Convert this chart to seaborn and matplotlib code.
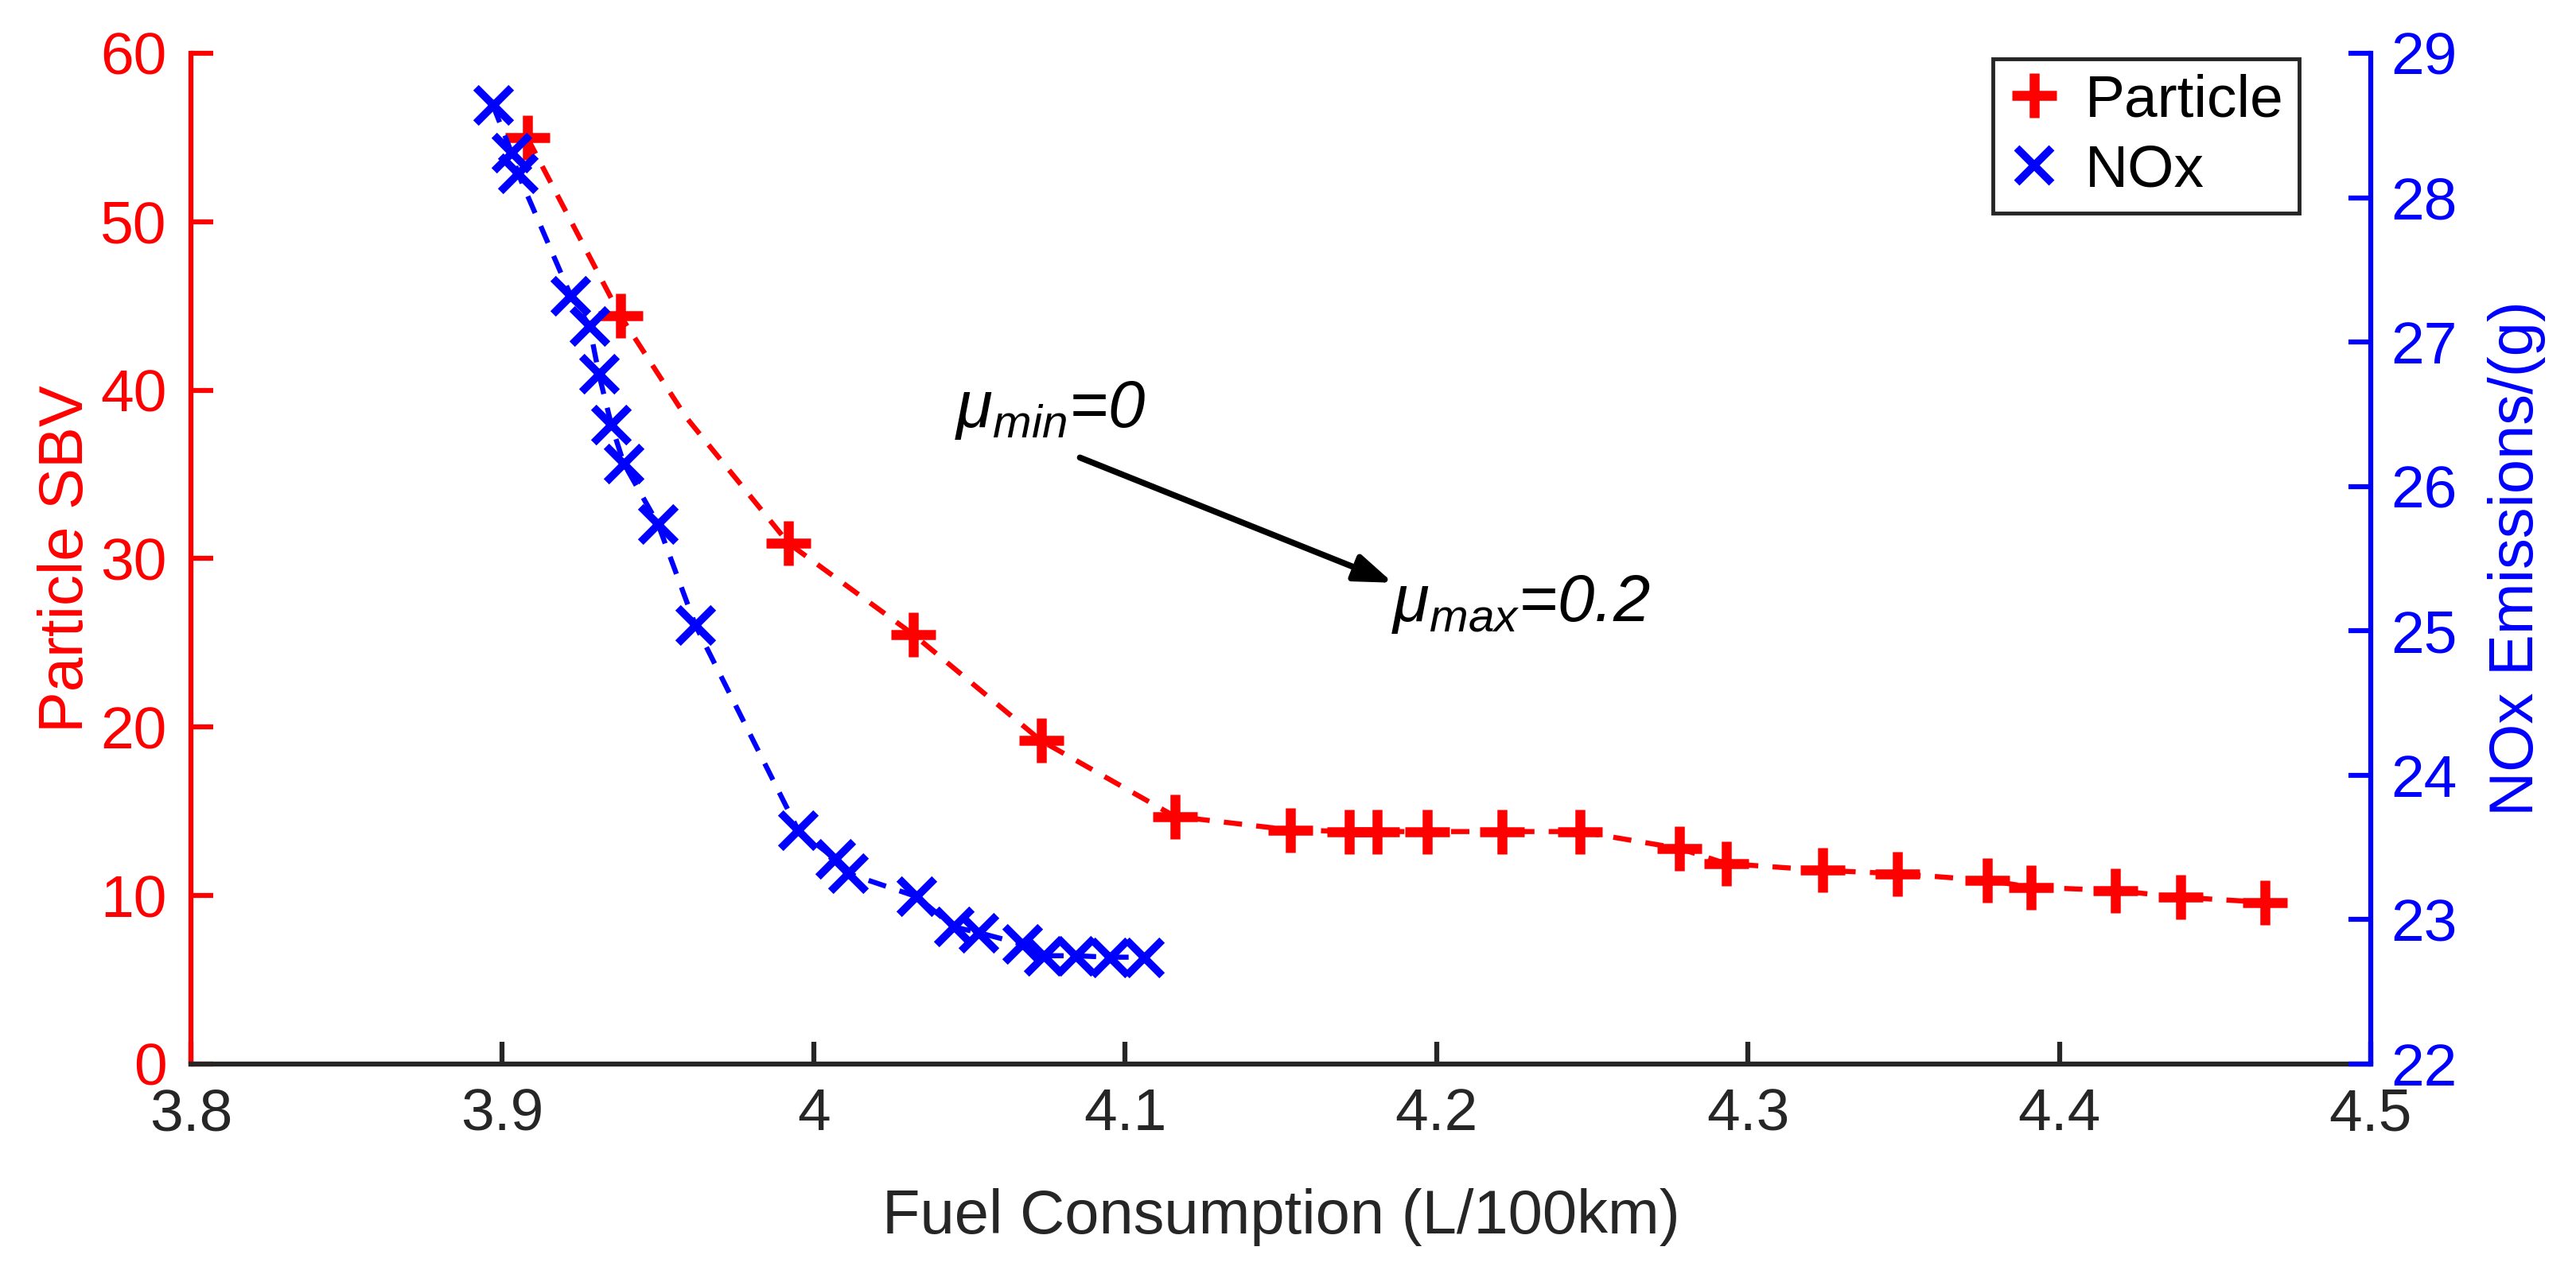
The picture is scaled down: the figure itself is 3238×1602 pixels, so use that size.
import matplotlib
matplotlib.use('Agg')
import matplotlib.pyplot as plt
import pandas as pd
import seaborn as sns
from matplotlib.lines import Line2D
from matplotlib.patches import ArrowStyle

# Pareto front values
fuel_particle = [3.908, 3.938, 3.992, 4.032, 4.073, 4.116, 4.153, 4.172, 4.181, 4.197, 4.221,
                 4.246, 4.278, 4.293, 4.324, 4.348, 4.377, 4.391, 4.418, 4.439, 4.466]
particle_sbv = [55.0, 44.4, 30.9, 25.5, 19.2, 14.7, 13.9, 13.8, 13.8, 13.8, 13.8,
                13.8, 12.8, 11.9, 11.5, 11.3, 10.9, 10.5, 10.3, 9.9, 9.6]

fuel_nox = [3.897, 3.903, 3.905, 3.922, 3.928, 3.931, 3.935, 3.939, 3.950, 3.962, 3.995,
            4.007, 4.011, 4.033, 4.045, 4.053, 4.067, 4.074, 4.084, 4.095, 4.106]
nox_emissions = [28.64, 28.31, 28.17, 27.32, 27.11, 26.78, 26.43, 26.16, 25.74, 25.04, 23.62,
                 23.42, 23.32, 23.16, 22.95, 22.91, 22.83, 22.75, 22.75, 22.74, 22.74]

# the dashed particle curve has one extra vertex (no marker) between the 2nd and 3rd points
particle_bend_fc = [3.959]
particle_bend_sbv = [38.4]

x_ticks = [3.8, 3.9, 4.0, 4.1, 4.2, 4.3, 4.4, 4.5]
x_tick_labels = ['3.8', '3.9', '4', '4.1', '4.2', '4.3', '4.4', '4.5']
sbv_ticks = [0, 10, 20, 30, 40, 50, 60]
nox_ticks = [22, 23, 24, 25, 26, 27, 28, 29]

RED = '#ff0000'
BLUE = '#0000ff'
DARK = '#262626'

sns.set_style('ticks')
plt.rcParams['font.family'] = ['Liberation Sans', 'DejaVu Sans']
plt.rcParams['mathtext.fontset'] = 'custom'
plt.rcParams['mathtext.it'] = 'Liberation Sans:italic'
plt.rcParams['mathtext.rm'] = 'Liberation Sans'

fig = plt.figure(figsize=(32.38, 16.02), dpi=100)
ax = fig.add_axes([0.0741, 0.1648, 0.8462, 0.7934])
ax2 = ax.twinx()

dash = (0, (3.6, 2.8))

particle_line = pd.DataFrame({'fc': fuel_particle + particle_bend_fc,
                              'sbv': particle_sbv + particle_bend_sbv}).sort_values('fc')
sns.lineplot(data=particle_line, x='fc', y='sbv', ax=ax, color=RED, linewidth=4.6,
             linestyle=dash, estimator=None, sort=False)
sns.scatterplot(x=fuel_particle, y=particle_sbv, ax=ax, marker='+', s=40 ** 2,
                color=RED, linewidth=9, zorder=3)

sns.lineplot(x=fuel_nox, y=nox_emissions, ax=ax2, color=BLUE, linewidth=4.6,
             linestyle=dash, estimator=None, sort=False)
sns.scatterplot(x=fuel_nox, y=nox_emissions, ax=ax2, marker='x', s=32 ** 2,
                color=BLUE, linewidth=7, zorder=3)

ax.set_xlim(3.8, 4.5)
ax.set_ylim(0, 60)
ax2.set_ylim(22, 29)
ax.set_xticks(x_ticks, x_tick_labels)
ax.set_yticks(sbv_ticks)
ax2.set_yticks(nox_ticks)

for s in ['top', 'right']:
    ax.spines[s].set_visible(False)
for s in ['top', 'left', 'bottom']:
    ax2.spines[s].set_visible(False)
ax.spines['left'].set_color(RED)
ax.spines['bottom'].set_color(DARK)
ax2.spines['right'].set_color(BLUE)
for sp in [ax.spines['left'], ax.spines['bottom'], ax2.spines['right']]:
    sp.set_linewidth(4.5)

ax.tick_params(axis='x', direction='in', length=20, width=4.5, color=DARK,
               labelcolor=DARK, labelsize=54, pad=21)
ax.tick_params(axis='y', direction='in', length=20, width=4.5, colors=RED,
               labelsize=54, pad=22)
ax2.tick_params(axis='y', direction='in', length=20, width=4.5, colors=BLUE,
                labelsize=54, pad=18)

ax.set_xlabel('Fuel Consumption (L/100km)', fontsize=56, color=DARK, labelpad=42)
ax.set_ylabel('Particle SBV', fontsize=56, color=RED, labelpad=4)
ax2.set_ylabel('NOx Emissions/(g)', fontsize=56, color=BLUE, labelpad=28)

# mu annotation
ax.annotate('', xy=(4.186, 28.57), xytext=(4.0855, 36.0),
            arrowprops=dict(arrowstyle=ArrowStyle('-|>', head_length=1.1, head_width=0.4),
                            mutation_scale=26, color='black', lw=5.5,
                            shrinkA=0, shrinkB=0))
ax.text(4.0454, 37.8, r'$\mu_{min}$=0', fontsize=60, style='italic',
        ha='left', va='baseline', color='black')
ax.text(4.1855, 26.3, r'$\mu_{max}$=0.2', fontsize=60, style='italic',
        ha='left', va='baseline', color='black')

handles = [
    Line2D([], [], color=RED, marker='+', linestyle='None', markersize=40, mew=9, label='Particle'),
    Line2D([], [], color=BLUE, marker='x', linestyle='None', markersize=32, mew=7, label='NOx'),
]
leg = ax2.legend(handles=handles, loc='upper right', bbox_to_anchor=(0.967, 0.9945),
                 fontsize=54, frameon=True, fancybox=False, edgecolor=DARK, framealpha=1,
                 borderaxespad=0, handlelength=0.9, handletextpad=0.4, borderpad=0.25,
                 labelspacing=0.25)
leg.get_frame().set_linewidth(3.5)
for t in leg.get_texts():
    t.set_color('black')

fig.savefig('out.png', dpi=100)
